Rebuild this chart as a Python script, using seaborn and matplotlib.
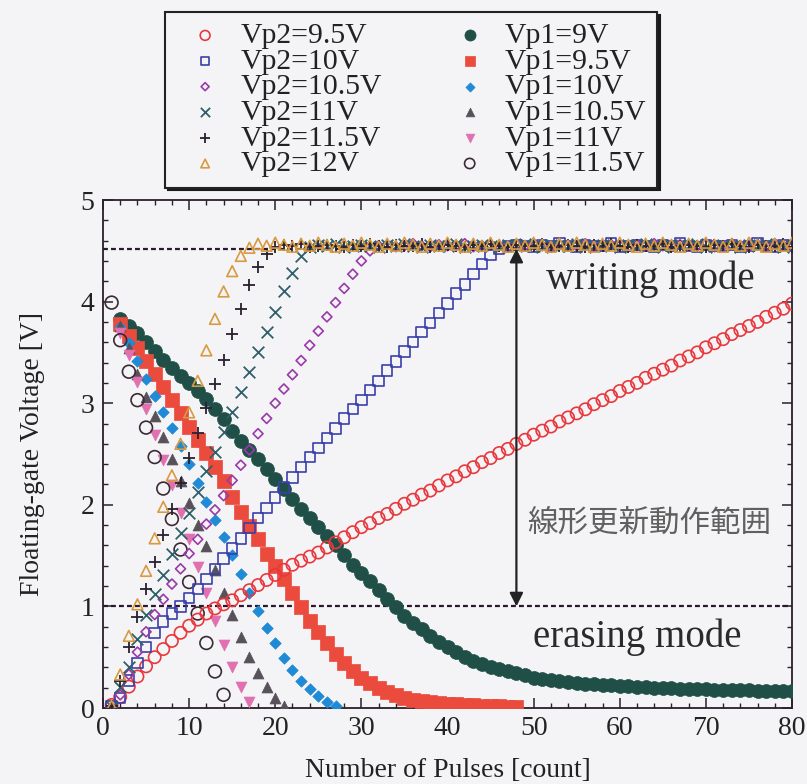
import matplotlib
matplotlib.use("Agg")
import matplotlib.pyplot as plt
import seaborn as sns
import pandas as pd
from matplotlib.ticker import MultipleLocator
from matplotlib.font_manager import FontProperties

# ---------------- data ----------------
pulses_w = list(range(1, 81))

vp2_95 = [0.03, 0.11, 0.21, 0.31, 0.41, 0.50, 0.58, 0.66, 0.74, 0.81,
          0.87, 0.93, 0.98, 1.02, 1.06, 1.11, 1.16, 1.21, 1.26, 1.31,
          1.36, 1.41, 1.45, 1.49, 1.53, 1.58, 1.63, 1.68, 1.73, 1.78,
          1.82, 1.87, 1.91, 1.96, 2.01, 2.05, 2.10, 2.14, 2.19, 2.24,
          2.28, 2.33, 2.37, 2.42, 2.46, 2.51, 2.55, 2.60, 2.64, 2.69,
          2.73, 2.77, 2.82, 2.86, 2.90, 2.94, 2.99, 3.03, 3.07, 3.12,
          3.16, 3.20, 3.25, 3.29, 3.33, 3.37, 3.42, 3.46, 3.50, 3.55,
          3.59, 3.63, 3.68, 3.72, 3.76, 3.80, 3.85, 3.89, 3.93, 3.98]

vp2_10 = [0.02, 0.10, 0.27, 0.44, 0.60, 0.74, 0.85, 0.93, 1.00, 1.08,
          1.17, 1.27, 1.37, 1.47, 1.57, 1.67, 1.77, 1.87, 1.97, 2.07,
          2.17, 2.27, 2.37, 2.47, 2.56, 2.66, 2.75, 2.85, 2.94, 3.03,
          3.13, 3.22, 3.32, 3.41, 3.51, 3.60, 3.70, 3.79, 3.89, 3.98,
          4.08, 4.17, 4.27, 4.37, 4.46, 4.52, 4.55, 4.56, 4.55, 4.54,
          4.56, 4.55, 4.57, 4.55, 4.54, 4.56, 4.55, 4.55, 4.57, 4.54,
          4.55, 4.56, 4.55, 4.54, 4.56, 4.55, 4.57, 4.55, 4.54, 4.56,
          4.55, 4.55, 4.56, 4.54, 4.55, 4.57, 4.55, 4.54, 4.56, 4.55]

vp2_105 = [0.01, 0.13, 0.33, 0.55, 0.75, 0.92, 1.07, 1.22, 1.37, 1.52,
           1.66, 1.81, 1.95, 2.09, 2.24, 2.39, 2.54, 2.70, 2.85, 3.00,
           3.14, 3.28, 3.42, 3.57, 3.71, 3.85, 3.99, 4.13, 4.27, 4.40,
           4.50, 4.55, 4.56, 4.54, 4.55, 4.57, 4.55, 4.54, 4.56, 4.55,
           4.55, 4.57, 4.54, 4.55, 4.56, 4.55, 4.54, 4.56, 4.55, 4.57,
           4.55, 4.54, 4.56, 4.55, 4.55, 4.57, 4.54, 4.55, 4.56, 4.55,
           4.54, 4.56, 4.55, 4.57, 4.55, 4.54, 4.56, 4.55, 4.55, 4.57,
           4.54, 4.55, 4.56, 4.55, 4.54, 4.56, 4.55, 4.57, 4.55, 4.54]

vp2_11 = [0.01, 0.21, 0.40, 0.68, 0.92, 1.12, 1.31, 1.52, 1.72, 1.92,
          2.13, 2.33, 2.52, 2.72, 2.91, 3.11, 3.31, 3.50, 3.70, 3.90,
          4.10, 4.28, 4.45, 4.54, 4.56, 4.55, 4.57, 4.54, 4.55, 4.56,
          4.55, 4.54, 4.56, 4.55, 4.57, 4.55, 4.54, 4.56, 4.55, 4.55,
          4.57, 4.54, 4.55, 4.56, 4.55, 4.54, 4.56, 4.55, 4.57, 4.55,
          4.54, 4.56, 4.55, 4.55, 4.57, 4.54, 4.55, 4.56, 4.55, 4.54,
          4.56, 4.55, 4.57, 4.55, 4.54, 4.56, 4.55, 4.55, 4.57, 4.54,
          4.55, 4.56, 4.55, 4.54, 4.56, 4.55, 4.57, 4.55, 4.54, 4.56]

vp2_115 = [0.02, 0.27, 0.60, 0.90, 1.17, 1.44, 1.70, 1.96, 2.21, 2.46,
           2.71, 2.95, 3.19, 3.43, 3.68, 3.93, 4.16, 4.34, 4.47, 4.54,
           4.56, 4.55, 4.57, 4.54, 4.55, 4.56, 4.55, 4.54, 4.56, 4.55,
           4.57, 4.55, 4.54, 4.56, 4.55, 4.55, 4.57, 4.54, 4.55, 4.56,
           4.55, 4.54, 4.56, 4.55, 4.57, 4.55, 4.54, 4.56, 4.55, 4.55,
           4.57, 4.54, 4.55, 4.56, 4.55, 4.54, 4.56, 4.55, 4.57, 4.55,
           4.54, 4.56, 4.55, 4.55, 4.57, 4.54, 4.55, 4.56, 4.55, 4.54,
           4.56, 4.55, 4.57, 4.55, 4.54, 4.56, 4.55, 4.55, 4.57, 4.54]

vp2_12 = [0.02, 0.33, 0.71, 1.02, 1.35, 1.67, 1.98, 2.29, 2.60, 2.91,
          3.22, 3.52, 3.83, 4.10, 4.30, 4.45, 4.53, 4.57, 4.55, 4.58,
          4.56, 4.54, 4.57, 4.55, 4.58, 4.56, 4.54, 4.57, 4.55, 4.58,
          4.56, 4.54, 4.57, 4.55, 4.58, 4.56, 4.54, 4.57, 4.55, 4.58,
          4.56, 4.54, 4.57, 4.55, 4.58, 4.56, 4.54, 4.57, 4.55, 4.58,
          4.56, 4.54, 4.57, 4.55, 4.58, 4.56, 4.54, 4.57, 4.55, 4.58,
          4.56, 4.54, 4.57, 4.55, 4.58, 4.56, 4.54, 4.57, 4.55, 4.58,
          4.56, 4.54, 4.57, 4.55, 4.58, 4.56, 4.54, 4.57, 4.55, 4.58]

pulses_e9 = list(range(2, 81))
vp1_9 = [3.83, 3.76, 3.69, 3.60, 3.51, 3.43, 3.35, 3.27, 3.20,
         3.12, 3.04, 2.94, 2.84, 2.73, 2.63, 2.54, 2.45, 2.35, 2.25,
         2.16, 2.06, 1.96, 1.87, 1.78, 1.69, 1.60, 1.51, 1.41, 1.33,
         1.25, 1.16, 1.07, 0.99, 0.91, 0.84, 0.78, 0.71, 0.65, 0.60,
         0.55, 0.50, 0.46, 0.43, 0.40, 0.38, 0.36, 0.34, 0.32, 0.30,
         0.29, 0.28, 0.27, 0.26, 0.25, 0.24, 0.235, 0.23, 0.225, 0.22,
         0.215, 0.21, 0.205, 0.20, 0.20, 0.195, 0.19, 0.19, 0.185, 0.185,
         0.18, 0.18, 0.18, 0.175, 0.175, 0.17, 0.17, 0.17, 0.165, 0.165]

pulses_e95 = list(range(2, 49))
vp1_95 = [3.78, 3.66, 3.54, 3.42, 3.29, 3.16, 3.03, 2.90, 2.77,
          2.64, 2.51, 2.37, 2.23, 2.08, 1.93, 1.79, 1.66, 1.52, 1.40,
          1.27, 1.13, 0.99, 0.86, 0.75, 0.64, 0.53, 0.44, 0.36, 0.30,
          0.25, 0.20, 0.16, 0.13, 0.10, 0.08, 0.07, 0.06, 0.05, 0.04,
          0.035, 0.03, 0.025, 0.02, 0.02, 0.015, 0.01, 0.01]

pulses_e10 = list(range(2, 28))
vp1_10 = [3.75, 3.59, 3.42, 3.24, 3.07, 2.91, 2.76, 2.58, 2.40,
          2.21, 2.03, 1.85, 1.68, 1.51, 1.32, 1.13, 0.95, 0.79, 0.64,
          0.49, 0.37, 0.27, 0.19, 0.12, 0.06, 0.02]

pulses_e105 = list(range(2, 22))
vp1_105 = [3.76, 3.54, 3.29, 3.06, 2.87, 2.67, 2.45, 2.23, 2.02,
           1.80, 1.59, 1.36, 1.13, 0.92, 0.70, 0.50, 0.34, 0.21, 0.10, 0.02]

pulses_e11 = list(range(2, 18))
vp1_11 = [3.69, 3.47, 3.21, 2.94, 2.69, 2.44, 2.19, 1.92, 1.66,
          1.39, 1.13, 0.86, 0.62, 0.40, 0.21, 0.06]

pulses_e115 = list(range(1, 15))
vp1_115 = [3.99, 3.62, 3.31, 3.03, 2.76, 2.47, 2.16, 1.86, 1.56, 1.24,
           0.93, 0.64, 0.36, 0.13]

write_level = 4.52
erase_level = 1.0
arrow_x = 48

# ---------------- style ----------------
sns.set_theme(style="ticks")
plt.rcParams["font.family"] = ["Liberation Serif", "DejaVu Serif"]

BG = "#f4f4f6"
INK = "#2a1f2a"

fig = plt.figure(figsize=(8.07, 7.84), dpi=100, facecolor=BG)
ax = fig.add_axes([103 / 807, 1 - 708 / 784, (792 - 103) / 807, (708 - 200) / 784])
ax.set_facecolor(BG)

# erasing series (filled markers)
erase = [
    ("Vp1=9V", pulses_e9, vp1_9, "o", "#1f4f47", 100, True),
    ("Vp1=9.5V", pulses_e95, vp1_95, "s", "#ea4b3c", 92, True),
    ("Vp1=10V", pulses_e10, vp1_10, "D", "#1f8ad6", 34, True),
    ("Vp1=10.5V", pulses_e105, vp1_105, "^", "#575159", 62, True),
    ("Vp1=11V", pulses_e11, vp1_11, "v", "#e070b0", 62, True),
    ("Vp1=11.5V", pulses_e115, vp1_115, "o", "#3b2a36", 85, False),
]
write = [
    ("Vp2=9.5V", pulses_w, vp2_95, "o", "#e8383d", 78, False),
    ("Vp2=10V", pulses_w, vp2_10, "s", "#3a3fa8", 56, False),
    ("Vp2=10.5V", pulses_w, vp2_105, "D", "#9a3aaa", 26, False),
    ("Vp2=11V", pulses_w, vp2_11, "x", "#2f5f6a", 70, None),
    ("Vp2=11.5V", pulses_w, vp2_115, "+", "#2a2030", 76, None),
    ("Vp2=12V", pulses_w, vp2_12, "^", "#d89a40", 60, False),
]

for label, xs, ys, mk, col, s, filled in erase + write:
    df = pd.DataFrame({"x": xs, "y": ys})
    kw = dict(marker=mk, s=s, label=label, zorder=3)
    if filled is True:
        kw.update(color=col, edgecolor=col, linewidth=0.5)
    elif filled is False:
        kw.update(color=col, facecolor="none", edgecolor=col, linewidth=1.2)
    else:
        kw.update(color=col, linewidth=1.3)
    sns.scatterplot(data=df, x="x", y="y", ax=ax, legend=False, **kw)

# reference lines and arrow
ax.axhline(write_level, color="#2a1830", lw=1.6, ls=(0, (2.2, 1.4)), zorder=2)
ax.axhline(erase_level, color="#2a1830", lw=1.6, ls=(0, (2.2, 1.4)), zorder=2)
ax.annotate("", xy=(arrow_x, write_level), xytext=(arrow_x, erase_level),
            arrowprops=dict(arrowstyle="<|-|>", color="#222222", lw=1.6,
                            mutation_scale=20, shrinkA=0, shrinkB=0), zorder=4)

ax.text(63.6, 4.12, "writing mode", ha="center", va="baseline", fontsize=28, color="#2a2a2a")
ax.text(62.0, 0.60, "erasing mode", ha="center", va="baseline", fontsize=28, color="#2a2a2a")
ax.text(63.4, 1.82, "線形更新動作範囲", ha="center", va="center", fontsize=22,
        color="#606060", style="italic",
        family=["Noto Sans CJK JP", "DejaVu Sans"])

# axes
ax.set_xlim(0, 80)
ax.set_ylim(0, 5)
ax.xaxis.set_major_locator(MultipleLocator(10))
ax.xaxis.set_minor_locator(MultipleLocator(2))
ax.yaxis.set_major_locator(MultipleLocator(1))
ax.yaxis.set_minor_locator(MultipleLocator(0.2))
ax.tick_params(which="both", direction="in", top=True, right=True, color=INK,
               labelsize=20, labelcolor="#222222")
ax.tick_params(which="major", length=7, width=1.1, pad=6)
ax.tick_params(which="minor", length=3.5, width=1.0)
for sp in ax.spines.values():
    sp.set_color(INK)
    sp.set_linewidth(1.3)

ax.set_xlabel("Number of Pulses [count]", fontsize=20, color="#222222", labelpad=12)
ax.set_ylabel("Floating-gate Voltage [V]", fontsize=20, color="#222222", labelpad=26)

# legend: Vp2 column then Vp1 column
handles, labels = ax.get_legend_handles_labels()
hmap = dict(zip(labels, handles))
order = [w[0] for w in write] + [e[0] for e in erase]
leg = fig.legend([hmap[l] for l in order], order, ncol=2, loc="upper left",
                 bbox_to_anchor=(165 / 807, 1 - 12 / 784), frameon=True,
                 fancybox=False, shadow={"color": "#1a1a1a", "alpha": 1.0},
                 edgecolor="#222222", facecolor=BG, framealpha=1,
                 prop=FontProperties(family="Liberation Serif", size=21.4),
                 handlelength=2.0, handletextpad=0.19, columnspacing=1.95,
                 labelspacing=-0.04, borderpad=0.35, borderaxespad=0, markerscale=0.8)
leg.get_frame().set_linewidth(1.5)
for t in leg.get_texts():
    t.set_color("#222222")

fig.savefig("out.png", dpi=100, facecolor=BG)
